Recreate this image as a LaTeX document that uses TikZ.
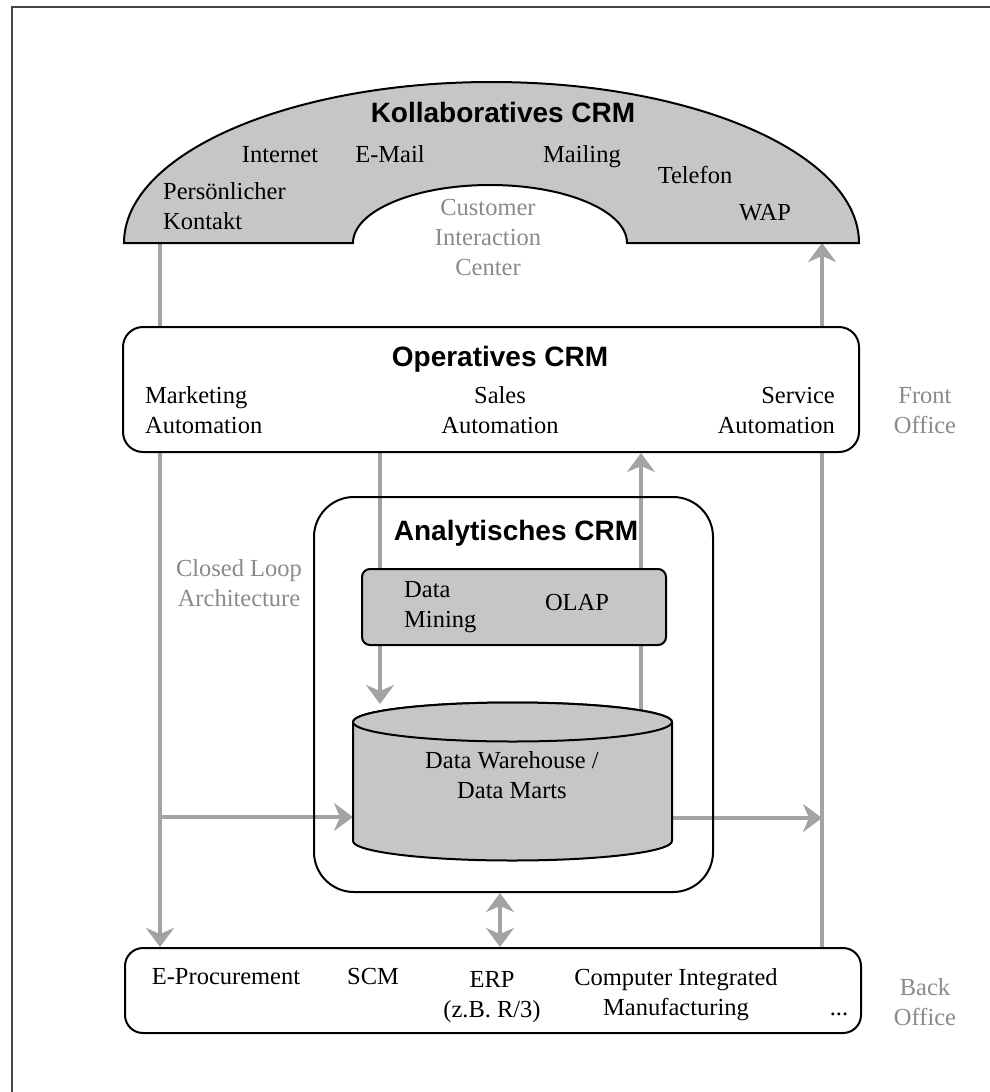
\documentclass[tikz,border=0pt]{standalone}
\usepackage{fontspec}
\setmainfont{Liberation Serif}
\setsansfont{Liberation Sans}
\usetikzlibrary{arrows.meta,backgrounds}
\definecolor{crmgrey}{HTML}{C6C6C6}
\definecolor{flowgrey}{HTML}{A3A3A3}
\definecolor{labelgrey}{HTML}{8A8A8A}
\definecolor{framegrey}{HTML}{454545}

\begin{document}
\begin{tikzpicture}[x=1pt,y=1pt,
  every node/.style={inner sep=0pt,font=\fontsize{24.5}{30}\selectfont},
  txt/.style={anchor=base,align=center},
  grey txt/.style={txt,text=labelgrey},
  crm title/.style={anchor=base,font=\fontsize{28}{32}\selectfont\sffamily\bfseries},
  frame box/.style={draw,line width=2pt,rounded corners=#1},
  flow/.style={draw=flowgrey,line width=4.2pt,-{Stealth[length=19pt,width=28pt,inset=6pt]}},
  both/.style={flow,{Stealth[length=19pt,width=28pt,inset=6pt]}-{Stealth[length=19pt,width=28pt,inset=6pt]}}]
\useasboundingbox (0,0) rectangle (990,-1092);
\draw[framegrey,line width=2pt] (990,-7) -- (12,-7) -- (12,-1092);

% Kollaboratives CRM
\draw[fill=crmgrey,line width=2pt] (124,-243) arc[start angle=180,end angle=0,x radius=367.5,y radius=161]
  -- (627,-243) arc[start angle=0,end angle=180,x radius=137,y radius=58] -- cycle;
\coordinate (kl) at (160,-243);
\coordinate (kr) at (822,-243);
\node[crm title] (kollab) at (503,-122) {Kollaboratives CRM};
\node[txt] (internet) at (280,-162) {Internet};
\node[txt] (email) at (390,-162) {E-Mail};
\node[txt] (mailing) at (582,-162) {Mailing};
\node[txt] (telefon) at (695,-183) {Telefon};
\node[txt,anchor=base west,align=left] (kontakt) at (163,-229) {Persönlicher\\Kontakt};
\node[txt] (wap) at (765,-220) {WAP};
\node[grey txt] (cic) at (488,-275) {Customer\\Interaction\\Center};

% Operatives CRM
\node[frame box=20,fill=white,minimum width=736,minimum height=125] (op) at (491,-389.5) {};
\node[crm title] (optitle) at (500,-366) {Operatives CRM};
\node[txt,anchor=base west,align=left] (marketing) at (145,-433) {Marketing\\Automation};
\node[txt] (salesaut) at (500,-433) {Sales\\Automation};
\node[txt,anchor=base east,align=right] (service) at (835,-433) {Service\\Automation};
\node[grey txt] (front) at (925,-433) {Front\\Office};

% Analytisches CRM
\node[frame box=40,minimum width=399,minimum height=395] (an) at (513.5,-694.5) {};
\node[crm title] (antitle) at (516,-540) {Analytisches CRM};
\node[grey txt] (loop) at (239,-606) {Closed Loop\\Architecture};
\node[frame box=8,fill=crmgrey,minimum width=304,minimum height=76] (dm) at (514,-607) {};
\node[txt,anchor=base west,align=left] (mining) at (404,-627) {Data\\Mining};
\node[txt] (olaplbl) at (577,-610) {OLAP};

% Data Warehouse
\draw[fill=crmgrey,line width=2pt] (353,-722) -- (353,-841) arc[start angle=180,end angle=360,x radius=159.5,y radius=19.5]
  -- (672,-722) arc[start angle=0,end angle=180,x radius=159.5,y radius=19.5] -- cycle;
\draw[fill=crmgrey,line width=2pt] (512.5,-722) ellipse[x radius=159.5,y radius=19.5];
\node[txt] (dw) at (512,-798) {Data Warehouse /\\Data Marts};
\coordinate (dw top) at (512.5,-704);
\coordinate (dw mid) at (512.5,-722);
\coordinate (dw west) at (353,-817);
\coordinate (dw east) at (672,-818);

% Back Office
\node[frame box=18,fill=white,minimum width=736,minimum height=85] (bo) at (493,-990.5) {};
\node[txt] (eproc) at (226,-984) {E-Procurement};
\node[txt] (scm) at (373,-984) {SCM};
\node[txt] (erplbl) at (492,-1017) {ERP\\(z.B. R/3)};
\node[txt] (cim) at (676,-1015) {Computer Integrated\\Manufacturing};
\node[txt] (more) at (839,-1015) {...};
\node[grey txt] (back) at (925,-1025) {Back\\Office};

\coordinate (sales) at (380,0);
\coordinate (olap) at (641,0);
\coordinate (erp) at (500,0);
\begin{scope}[on background layer]
  \draw[flow] (kl) -- (kl |- bo.north);
  \draw[flow] (kr |- bo.north) -- (kr);
  \draw[flow] (sales |- op.south) -- (sales |- dw top);
  \draw[flow] (olap |- dw mid) -- (olap |- op.south);
  \draw[flow] (kl |- dw west) -- (dw west);
  \draw[flow] (dw east) -- (kr |- dw east);
  \draw[both] (erp |- an.south) -- (erp |- bo.north);
\end{scope}
\end{tikzpicture}
\end{document}
